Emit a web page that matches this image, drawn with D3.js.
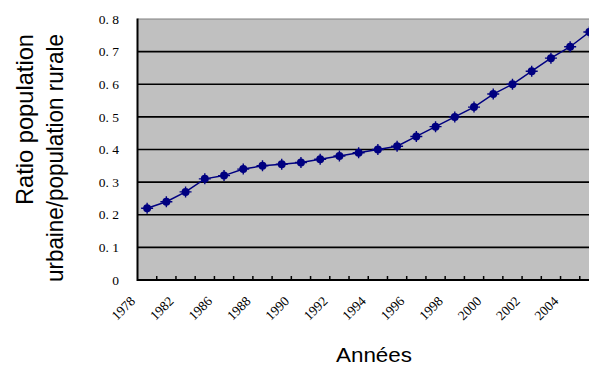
<!DOCTYPE html>
<html>
<head>
<meta charset="utf-8">
<script src="https://cdn.jsdelivr.net/npm/d3@7"></script>
<style>
html,body{margin:0;padding:0;background:#fff;}
svg{display:block;}
</style>
</head>
<body>
<script>
const years = ["1978","1980","1982","1984","1986","1987","1988","1989","1990","1991","1992","1993","1994","1995","1996","1997","1998","1999","2000","2001","2002","2003","2004","2005"];
const ratio = [0.22,0.24,0.27,0.31,0.32,0.34,0.35,0.355,0.36,0.37,0.38,0.39,0.40,0.41,0.44,0.47,0.50,0.53,0.57,0.60,0.64,0.68,0.715,0.76];
const yTicks = [0,0.1,0.2,0.3,0.4,0.5,0.6,0.7,0.8];
const yTickLabels = ["0","0. 1","0. 2","0. 3","0. 4","0. 5","0. 6","0. 7","0. 8"];
const xLabelYears = ["1978","1982","1986","1988","1990","1992","1994","1996","1998","2000","2002","2004"];
const yTitleLines = ["Ratio population","urbaine/population rurale"];
const xTitle = "Années";

const W = 589, H = 365;
const svg = d3.select("body").append("svg").attr("width", W).attr("height", H);
svg.append("rect").attr("width", W).attr("height", H).attr("fill", "#fff");

const x = d3.scaleBand().domain(years).range([137.5, 599]).padding(0);
const y = d3.scaleLinear().domain([0, 0.8]).range([280, 19]);

// plot background
svg.append("rect").attr("x", x.range()[0]).attr("y", y(0.8))
  .attr("width", x.range()[1] - x.range()[0]).attr("height", y(0) - y(0.8))
  .attr("fill", "#c0c0c0");

// gridlines
svg.append("g").selectAll("line").data(yTicks.filter(v => v > 0 && v < 0.8)).join("line")
  .attr("x1", x.range()[0]).attr("x2", x.range()[1])
  .attr("y1", d => y(d)).attr("y2", d => y(d))
  .attr("stroke", "#000").attr("stroke-width", 1.6);
// top border
svg.append("line").attr("x1", x.range()[0]).attr("x2", x.range()[1])
  .attr("y1", y(0.8)).attr("y2", y(0.8)).attr("stroke", "#808080").attr("stroke-width", 1.2);

// axes lines
svg.append("line").attr("x1", x.range()[0]).attr("x2", x.range()[0])
  .attr("y1", y(0.8) - 0.5).attr("y2", y(0) + 1).attr("stroke", "#000").attr("stroke-width", 2);
svg.append("line").attr("x1", x.range()[0]).attr("x2", x.range()[1])
  .attr("y1", y(0)).attr("y2", y(0)).attr("stroke", "#000").attr("stroke-width", 2);

// x tick marks at category boundaries (inside)
svg.append("g").selectAll("line").data(years.slice(1)).join("line")
  .attr("x1", d => x(d)).attr("x2", d => x(d))
  .attr("y1", y(0)).attr("y2", y(0) - 4)
  .attr("stroke", "#000").attr("stroke-width", 1.5);

// y tick labels
svg.append("g").selectAll("text").data(yTicks).join("text")
  .attr("x", 119).attr("y", d => y(d))
  .attr("dy", "0.35em").attr("text-anchor", "end")
  .attr("font-family", "'Liberation Serif', serif").attr("font-size", 13.5)
  .attr("fill", "#000")
  .text((d, i) => yTickLabels[i]);

// x tick labels rotated
svg.append("g").selectAll("text").data(xLabelYears).join("text")
  .attr("transform", d => `translate(${x(d) + x.bandwidth() / 2 - 11},${302}) rotate(-45)`)
  .attr("text-anchor", "end")
  .attr("font-family", "'Liberation Serif', serif").attr("font-size", 13.5)
  .attr("fill", "#000")
  .text(d => d);

// line
const line = d3.line().x((d, i) => x(years[i]) + x.bandwidth() / 2).y(d => y(d));
svg.append("path").datum(ratio).attr("d", line)
  .attr("fill", "none").attr("stroke", "#000080").attr("stroke-width", 1.5);

// markers
const mk = svg.append("g").selectAll("g").data(ratio).join("g")
  .attr("transform", (d, i) => `translate(${x(years[i]) + x.bandwidth() / 2},${y(d)})`);
mk.append("circle").attr("r", 4).attr("fill", "#000080");
mk.append("path").attr("d", "M-6,0H6M0,-5.5V5.5").attr("stroke", "#000080").attr("stroke-width", 1.4);

// y title
const yLens = [171, 248];
const yX = [33, 63];
yTitleLines.forEach((t, i) => {
  svg.append("text")
    .attr("transform", `translate(${yX[i]},34) rotate(-90)`)
    .attr("text-anchor", "end")
    .attr("font-family", "'Liberation Sans', Arial, sans-serif")
    .attr("font-size", 24.5)
    .attr("textLength", yLens[i]).attr("lengthAdjust", "spacingAndGlyphs")
    .attr("fill", "#000")
    .text(t);
});

// x title
svg.append("text")
  .attr("x", 336).attr("y", 362)
  .attr("font-family", "'Liberation Sans', Arial, sans-serif")
  .attr("font-size", 20)
  .attr("textLength", 76).attr("lengthAdjust", "spacingAndGlyphs")
  .attr("fill", "#000")
  .text(xTitle);
</script>
</body>
</html>
